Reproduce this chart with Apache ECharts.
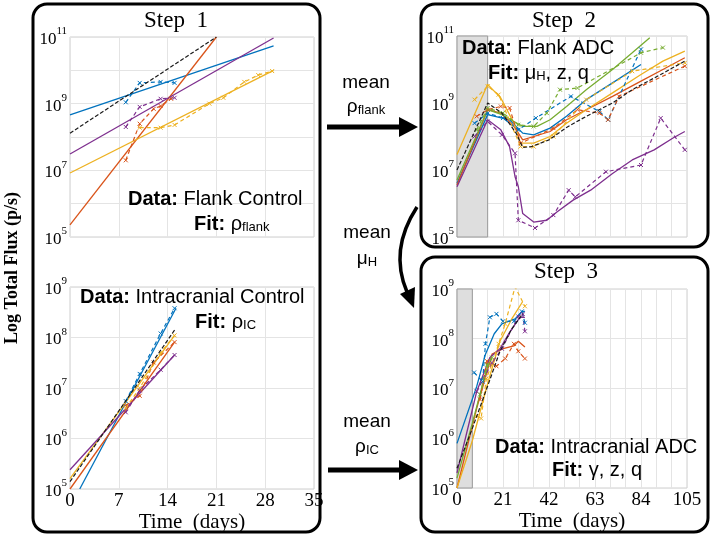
<!DOCTYPE html>
<html><head><meta charset="utf-8">
<script src="https://cdn.jsdelivr.net/npm/echarts@6/dist/echarts.min.js"></script>
<style>html,body{margin:0;padding:0;background:#fff}#c{width:711px;height:538px}</style>
</head><body><div id="c"></div>
<script>
// ---------- tick labels ----------
const xTicksIC = [0, 7, 14, 21, 28, 35];
const xTicksADC = [0, 21, 42, 63, 84, 105];

// ---------- Step 1 top: Flank control (t days, flux p/s) ----------
const fcFitBlack  = [[0, 1.3e8], [21, 1e11]];
const fcFitOrange = [[0, 2.3e5], [21, 1e11]];
const fcFitBlue   = [[0, 4.6e8], [29.2, 5.4e10]];
const fcFitPurple = [[0, 3.1e7], [29.2, 9.3e10]];
const fcFitYellow = [[0, 8.3e6], [29.2, 1e10]];
const fcDataBlue   = [[8, 1.1e9], [10, 4.2e9], [13, 4.5e9], [15, 4.2e9]];
const fcDataPurple = [[8, 2e8], [10, 8e8], [13, 1.4e9], [15, 1.5e9]];
const fcDataOrange = [[8, 2e7], [10, 2.5e8], [12, 7e8], [13, 8.5e8], [14.5, 1.4e9]];
const fcDataYellow = [[10, 1.9e8], [13, 1.9e8], [15, 2.3e8], [20, 1e9], [22, 1.5e9], [25, 4.5e9], [27, 7.2e9], [29, 9.5e9]];

// ---------- Step 1 bottom: Intracranial control ----------
const icFitBlack  = [[0, 1.4e5], [15, 1.4e8]];
const icFitBlue   = [[1.4, 1e5], [15.2, 3.8e8]];
const icFitYellow = [[0, 1.6e5], [15, 1.1e8]];
const icFitOrange = [[0, 1e5], [15, 8.1e7]];
const icFitPurple = [[0, 2.4e5], [15, 4.5e7]];
const icDataBlue   = [[8, 5.5e6], [10, 1.9e7], [13, 1.2e8], [15, 3.8e8]];
const icDataYellow = [[8, 4e6], [10, 1e7], [13, 5e7], [15, 1.1e8]];
const icDataOrange = [[8, 4.5e6], [10, 7e6], [12, 3.2e7], [15, 8.1e7]];
const icDataPurple = [[8, 3.3e6], [10, 9e6], [13, 2.3e7], [15, 4.5e7]];

// ---------- Step 2: Flank ADC ----------
const faMean = [[0, 1e7], [14, 1e9], [20.5, 5e8], [27, 1.26e8], [30, 4.7e7], [34, 5e7], [42, 7.9e7], [50, 1.86e8], [59, 4e8], [71, 1e9], [80, 2.5e9], [93, 7.1e9], [104, 1.78e10]];
const faGreenFit  = [[0, 5e6], [14, 6.3e8], [20.5, 4.5e8], [26, 2.8e8], [30, 2e8], [36.5, 2e8], [42.5, 3.16e8], [50, 7.9e8], [59, 2.5e9], [71, 1e10], [80, 3.16e10], [88, 8.9e10]];
const faGreenData = [[9, 1.58e8], [14, 7.1e8], [21, 5e8], [28, 2.24e8], [35, 2e8], [41, 5e8], [47, 2.5e9], [55, 2.8e9], [84, 3.16e10], [94, 4.5e10]];
const faBlueFit   = [[0, 4e6], [14, 4.5e8], [24, 3.16e8], [30, 1.26e8], [35, 1.12e8], [42.5, 1.78e8], [50, 4e8], [59, 1.26e9], [71, 4e9], [84, 1.41e10]];
const faBlueData  = [[8, 2.5e8], [14, 5e8], [21, 3.55e8], [28, 1.58e8], [36, 3.55e8], [52, 1.58e9], [65, 5.6e8], [69, 3.16e8], [84, 4e10]];
const faOrangeFit = [[0, 3.55e6], [14, 6.3e8], [20, 5e8], [26, 2e8], [30, 7.9e7], [35, 1e8], [42.5, 1.41e8], [50, 3.16e8], [59, 6.3e8], [71, 1.58e9], [84, 4.5e9], [94, 1e10], [104, 2.24e10]];
const faOrangeData = [[9, 4e8], [14, 6.3e8], [20, 7.9e8], [24, 7.1e8], [29, 6.3e7], [44, 1.78e8], [55, 6.3e8], [65, 5e8], [69, 3.16e8], [74, 1.58e9], [104, 1.26e10]];
const faYellowFit = [[0, 2.9e7], [14, 3.6e9], [20, 1.41e9], [26, 2.5e8], [29, 6.3e7], [35, 6.3e7], [42.5, 1e8], [50, 2.5e8], [59, 6.3e8], [71, 2e9], [84, 7.1e9], [94, 1.78e10], [104, 3.55e10]];
const faYellowData = [[8, 1.26e9], [14, 3.16e9], [19, 1.78e9], [29, 5e7], [35, 5e7], [44, 1e8], [59, 1.26e9], [80, 8.9e9], [104, 1.58e10]];
const faPurpleFit = [[0, 3.16e6], [14, 3.16e8], [20, 1.58e8], [24, 5e7], [26.5, 6.3e6], [28, 3.16e6], [30, 5e5], [35, 2.8e5], [41, 3.16e5], [45.6, 5.6e5], [53, 1.26e6], [61, 2.5e6], [71, 7.9e6], [80, 2e7], [90, 4e7], [99, 9.3e7], [104, 1.41e8]];
const faPurpleData = [[8, 1e8], [14, 2.8e8], [20.5, 1.12e8], [26.5, 3.16e7], [28, 3.16e5], [35.6, 1.86e5], [44, 4.5e5], [51, 2.5e6], [54, 1.58e6], [68, 8.9e6], [84, 1.41e7], [93, 3.55e8], [104, 4e7]];

// ---------- Step 3: Intracranial ADC ----------
const iaMean = [[0, 2.5e5], [7, 1.58e6], [14, 1.12e7], [19.6, 5.6e7], [25, 1.58e8], [30, 3.16e8]];
const iaBlueFit   = [[0, 7.9e5], [9, 1.1e7], [13, 4.9e7], [17, 1.26e8], [20.5, 2e8], [26.5, 2.5e8], [29.7, 3.55e8], [31, 3.55e8]];
const iaBlueData  = [[7.8, 2.1e7], [11.7, 1.38e7], [13, 7.9e7], [15, 2.7e8], [18, 3.16e8], [21, 2.24e8], [26, 2.24e8], [29.6, 3.55e8], [31, 2.1e8]];
const iaYellowFit = [[0, 1e5], [7, 8.9e5], [14, 1.26e7], [19.6, 8.9e7], [25, 2.5e8], [30, 5.6e8]];
const iaYellowData = [[9, 2.8e6], [11, 2.5e6], [13.4, 1.58e7], [16, 3.16e7], [19, 7.9e7], [22, 2e8], [26.5, 1.1e9], [31, 4.5e8]];
const iaOrangeFit = [[0, 1e5], [9, 4e6], [16, 4.9e7], [21, 6.3e7], [26, 7.2e7], [28, 8.9e7], [31, 6.8e7]];
const iaOrangeData = [[10.5, 6e6], [13.7, 3.55e7], [18, 2.8e7], [22, 4e7], [26, 7.9e7], [28, 5.6e7], [31, 4e7]];
const iaPurpleFit = [[0, 2e5], [9, 8.7e6], [15, 4.2e7], [19.6, 6.3e7], [24, 1.35e8], [28.7, 2.7e8], [31, 2.7e8]];
const iaPurpleData = [[9, 8.7e6], [16, 3.3e7], [20.5, 6.3e7], [28, 2.8e8], [30, 3.16e8], [31, 1.41e8]];
const iaGreenFit  = [[0, 1.58e5], [7, 2e6], [10, 6.3e6], [14, 2.8e7], [16, 4e7]];
const iaGreenData = [[10.5, 7.6e6], [13.7, 3e7], [16, 4.2e7]];

// ---------- styling ----------
const COL = {blue:'#0072BD', orange:'#D95319', yellow:'#EDB120', purple:'#7E2F8E', green:'#77AC30', black:'#1a1a1a'};
const SERIF = 'Liberation Serif, Times New Roman, serif';
const SANS = 'Liberation Sans, Arial, Helvetica, sans-serif';
const XMARK = 'path://M0,0L10,10M10,0L0,10';

function fit(ax, data, color) {
  return {type:'line', xAxisIndex:ax, yAxisIndex:ax, data, showSymbol:false, symbol:'none', z:3,
    lineStyle:{color, width:1.3}, itemStyle:{color}, silent:true};
}
function mean(ax, data) {
  return {type:'line', xAxisIndex:ax, yAxisIndex:ax, data, showSymbol:false, symbol:'none', z:4,
    lineStyle:{color:COL.black, width:1.2, type:[4,2]}, silent:true};
}
function obs(ax, data, color) {
  return {type:'line', xAxisIndex:ax, yAxisIndex:ax, data, symbol:XMARK, symbolSize:4, z:3,
    lineStyle:{color, width:1.2, type:[4,3]}, itemStyle:{color:'none', borderColor:color, borderWidth:1}, silent:true};
}
function shade(ax, end) {
  return {type:'line', xAxisIndex:ax, yAxisIndex:ax, data:[], z:1, silent:true,
    markArea:{silent:true, itemStyle:{color:'#dedede', borderColor:'#9a9a9a', borderWidth:1},
      data:[[{xAxis:0},{xAxis:end}]]}};
}

function yFmt(step) {
  return function (v) {
    const e = Math.round(Math.log10(v));
    if ((e - 5) % step !== 0) return '';
    return '{b|10}{s|' + e + '}';
  };
}
const yRich = {
  b:{fontFamily:SERIF, fontSize:17, color:'#000', lineHeight:22, verticalAlign:'bottom'},
  s:{fontFamily:SERIF, fontSize:11, color:'#000', lineHeight:12, verticalAlign:'top'}
};
const gridLine = {show:true, lineStyle:{color:'#e4e4e4', width:1}};

function yAxis(gi, max, step) {
  return {type:'log', logBase:10, gridIndex:gi, min:1e5, max, splitNumber:Math.round(Math.log10(max)) - 5,
    axisLine:{show:false}, axisTick:{show:false}, splitLine:gridLine,
    axisLabel:{formatter:yFmt(step), rich:yRich, margin:3}};
}
function xAxis(gi, max, ticks, showLabels) {
  return {type:'value', gridIndex:gi, min:0, max, interval:7,
    axisLine:{show:false}, axisTick:{show:false}, splitLine:gridLine,
    axisLabel:{show:showLabels, margin:3, fontFamily:SERIF, fontSize:19, color:'#000',
      formatter:(v) => ticks.indexOf(v) >= 0 ? String(v) : ''},
    name: showLabels ? 'Time  (days)' : '', nameLocation:'middle', nameGap:21,
    nameTextStyle:{fontFamily:SERIF, fontSize:21, color:'#000'}};
}

const gridBase = {show:true, borderColor:'#cfcfcf', borderWidth:1, backgroundColor:'#fff'};
const option = {
  animation:false,
  backgroundColor:'#fff',
  grid:[
    Object.assign({left:70, top:37, width:244, height:200}, gridBase),
    Object.assign({left:70, top:287, width:244, height:202}, gridBase),
    Object.assign({left:457, top:36, width:230, height:201}, gridBase),
    Object.assign({left:457, top:289, width:230, height:199}, gridBase)
  ],
  xAxis:[
    xAxis(0, 35, xTicksIC, false),
    xAxis(1, 35, xTicksIC, true),
    xAxis(2, 105, xTicksADC, false),
    xAxis(3, 105, xTicksADC, true)
  ],
  yAxis:[
    yAxis(0, 1e11, 2),
    yAxis(1, 1e9, 1),
    yAxis(2, 1e11, 2),
    yAxis(3, 1e9, 1)
  ],
  series:[
    // panel 0
    fit(0, fcFitBlue, COL.blue), fit(0, fcFitOrange, COL.orange), fit(0, fcFitYellow, COL.yellow), fit(0, fcFitPurple, COL.purple),
    obs(0, fcDataBlue, COL.blue), obs(0, fcDataOrange, COL.orange), obs(0, fcDataYellow, COL.yellow), obs(0, fcDataPurple, COL.purple),
    mean(0, fcFitBlack),
    // panel 1
    fit(1, icFitBlue, COL.blue), fit(1, icFitOrange, COL.orange), fit(1, icFitYellow, COL.yellow), fit(1, icFitPurple, COL.purple),
    obs(1, icDataBlue, COL.blue), obs(1, icDataOrange, COL.orange), obs(1, icDataYellow, COL.yellow), obs(1, icDataPurple, COL.purple),
    mean(1, icFitBlack),
    // panel 2
    shade(2, 14),
    fit(2, faBlueFit, COL.blue), fit(2, faOrangeFit, COL.orange), fit(2, faYellowFit, COL.yellow), fit(2, faPurpleFit, COL.purple), fit(2, faGreenFit, COL.green),
    obs(2, faBlueData, COL.blue), obs(2, faOrangeData, COL.orange), obs(2, faYellowData, COL.yellow), obs(2, faPurpleData, COL.purple), obs(2, faGreenData, COL.green),
    mean(2, faMean),
    // panel 3
    shade(3, 7),
    fit(3, iaBlueFit, COL.blue), fit(3, iaOrangeFit, COL.orange), fit(3, iaYellowFit, COL.yellow), fit(3, iaPurpleFit, COL.purple), fit(3, iaGreenFit, COL.green),
    obs(3, iaBlueData, COL.blue), obs(3, iaOrangeData, COL.orange), obs(3, iaYellowData, COL.yellow), obs(3, iaPurpleData, COL.purple), obs(3, iaGreenData, COL.green),
    mean(3, iaMean)
  ],
  graphic:[]
};

const subRich = {
  b:{fontFamily:SANS, fontSize:20, fontWeight:'bold', color:'#000'},
  n:{fontFamily:SANS, fontSize:20, color:'#000'},
  sub:{fontFamily:SANS, fontSize:13, color:'#000', verticalAlign:'bottom', lineHeight:16, padding:[0,0,0,0]}
};
function label(x, y, text, align) {
  return {type:'text', x, y, z:50, style:{text, rich:subRich, align:align || 'left', verticalAlign:'middle',
    fontFamily:SANS, fontSize:20, fill:'#000'}};
}
function box(x, y, w, h) {
  return {type:'rect', shape:{x, y, width:w, height:h, r:14}, z:40,
    style:{fill:'none', stroke:'#000', lineWidth:3}};
}
function title(x, y, t) {
  return {type:'text', x, y, z:50, style:{text:t, fontFamily:SERIF, fontSize:23, fill:'#000', align:'center', verticalAlign:'middle'}};
}
const arrowSans = {fontFamily:SANS, fontSize:19, fill:'#000', align:'center', verticalAlign:'middle'};
const arrowRich = {n:{fontFamily:SANS, fontSize:19, color:'#000'}, sub:{fontFamily:SANS, fontSize:13, color:'#000', verticalAlign:'bottom', lineHeight:15}};

option.graphic = [
  box(33, 4, 287, 528), box(421, 4, 287, 243), box(421, 257, 287, 275),
  title(176, 21, 'Step  1'), title(564, 21, 'Step  2'), title(566, 272, 'Step  3'),
  {type:'text', x:12, y:268, rotation:Math.PI/2, z:50,
    style:{text:'Log Total Flux (p/s)', fontFamily:SERIF, fontWeight:'bold', fontSize:18, fill:'#000', align:'center', verticalAlign:'middle'}},
  label(128, 199, '{b|Data:}{n| Flank Control}'),
  label(194, 224, '{b|Fit:}{n| ρ}{sub|flank}'),
  label(80, 297, '{b|Data:}{n| Intracranial Control}'),
  label(195, 322, '{b|Fit:}{n| ρ}{sub|IC}'),
  label(462, 48, '{b|Data:}{n| Flank ADC}'),
  label(488, 73, '{b|Fit:}{n| μ}{sub|H}{n|, z, q}'),
  label(495, 447, '{b|Data:}{n| Intracranial ADC}'),
  label(552, 470, '{b|Fit:}{n| γ, z, q}'),
  // arrows text
  {type:'text', x:366, y:83, z:50, style:Object.assign({text:'mean'}, arrowSans)},
  {type:'text', x:366, y:107, z:50, style:Object.assign({text:'{n|ρ}{sub|flank}', rich:arrowRich}, arrowSans)},
  {type:'text', x:367, y:233, z:50, style:Object.assign({text:'mean'}, arrowSans)},
  {type:'text', x:367, y:259, z:50, style:Object.assign({text:'{n|μ}{sub|H}', rich:arrowRich}, arrowSans)},
  {type:'text', x:367, y:422, z:50, style:Object.assign({text:'mean'}, arrowSans)},
  {type:'text', x:367, y:447, z:50, style:Object.assign({text:'{n|ρ}{sub|IC}', rich:arrowRich}, arrowSans)},
  // straight arrows
  {type:'line', z:50, shape:{x1:327, y1:127, x2:402, y2:127}, style:{stroke:'#000', lineWidth:5}},
  {type:'polygon', z:50, shape:{points:[[399, 117], [418, 127], [399, 137]]}, style:{fill:'#000'}},
  {type:'line', z:50, shape:{x1:328, y1:470, x2:402, y2:470}, style:{stroke:'#000', lineWidth:5}},
  {type:'polygon', z:50, shape:{points:[[399, 460], [418, 470], [399, 480]]}, style:{fill:'#000'}},
  // curved arrow
  {type:'bezierCurve', z:50, shape:{x1:417, y1:207, x2:407, y2:292, cpx1:389, cpy1:250}, style:{stroke:'#000', lineWidth:3.5, fill:'none'}},
  {type:'polygon', z:50, shape:{points:[[400, 294], [415, 287], [414, 308]]}, style:{fill:'#000'}}
];

const chart = echarts.init(document.getElementById('c'), null, {renderer:'canvas'});
chart.setOption(option);
</script>
</body></html>
